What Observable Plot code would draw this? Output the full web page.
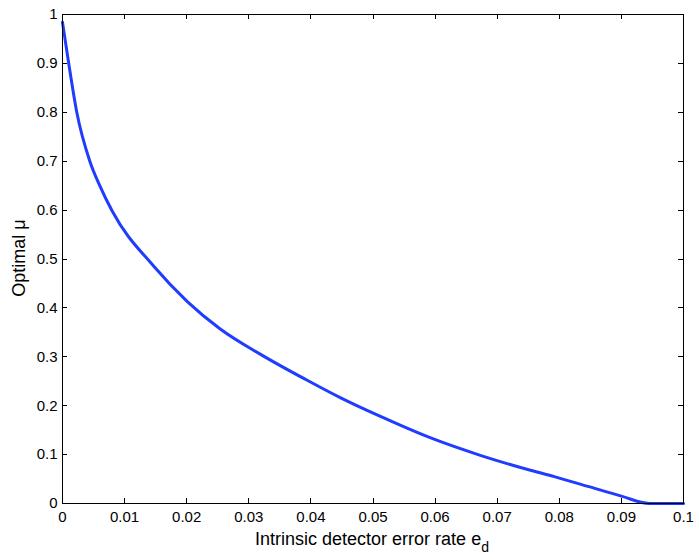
<!DOCTYPE html>
<html>
<head>
<meta charset="utf-8">
<script src="https://cdn.jsdelivr.net/npm/d3@7"></script>
<script src="https://cdn.jsdelivr.net/npm/@observablehq/plot@0.6"></script>
<style>
  html, body { margin: 0; padding: 0; background: #fff; }
  #chart svg { display: block; }
</style>
</head>
<body>
<div id="chart"></div>
<script>
// Intrinsic detector error rate e_d (x) and optimal mu (y)
const errorRate = [0, 0.001, 0.0023, 0.0044, 0.006, 0.008, 0.0147, 0.0201, 0.0254, 0.0319, 0.0394, 0.0448, 0.0512, 0.0593, 0.0674, 0.0755, 0.0792, 0.0846, 0.09, 0.0945, 0.1];
const optimalMu = [0.984, 0.9, 0.8, 0.7, 0.65, 0.598, 0.485, 0.413, 0.357, 0.305, 0.252, 0.216, 0.178, 0.134, 0.098, 0.0675, 0.055, 0.035, 0.015, 0, 0];
const xTicks = [0, 0.01, 0.02, 0.03, 0.04, 0.05, 0.06, 0.07, 0.08, 0.09, 0.1];
const yTicks = [0, 0.1, 0.2, 0.3, 0.4, 0.5, 0.6, 0.7, 0.8, 0.9, 1];
const xLabel = "Intrinsic detector error rate e";
const xLabelSub = "d";
const yLabel = "Optimal \u03bc";

(function () {
  const data = errorRate.map((e, i) => ({e, mu: optimalMu[i]}));
  const fmt = d => d === 0 ? "0" : d === 1 ? "1" : String(+d.toFixed(2));
  const FONT = "'Liberation Sans', Arial, sans-serif";

  const W = 699, H = 560, mL = 62, mR = 16, mT = 14, mB = 57, tickLen = 5;

  const plot = Plot.plot({
    width: W,
    height: H,
    marginLeft: mL,
    marginRight: mR,
    marginTop: mT,
    marginBottom: mB,
    style: {fontFamily: FONT, fontSize: "15px", color: "#000", background: "#fff"},
    x: {domain: [0, 0.1], ticks: xTicks},
    y: {domain: [0, 1], ticks: yTicks},
    marks: [
      Plot.line(data, {x: "e", y: "mu", stroke: "#1f3cff", strokeWidth: 3, curve: "monotone-x"}),
      Plot.frame({stroke: "#000", strokeWidth: 1}),
      Plot.axisX({anchor: "bottom", ticks: xTicks, tickSize: 0, tickPadding: 8, tickFormat: fmt, label: null, fontSize: 15, fill: "#000"}),
      Plot.axisY({anchor: "left", ticks: yTicks, tickSize: 0, tickPadding: 5, tickFormat: fmt, label: null, fontSize: 15, fill: "#000"})
    ]
  });

  document.getElementById("chart").appendChild(plot);

  const svg = d3.select(plot);
  svg.selectAll("g[aria-label*='tick label']").attr("font-size", 15);
  svg.selectAll("g[aria-label*='tick label'] text").attr("font-size", 15);

  // inward tick marks on all four sides, placed with Plot's own scales
  const sx = plot.scale("x"), sy = plot.scale("y");
  const yTop = mT, yBottom = H - mB, xLeft = mL, xRight = W - mR;
  const tg = svg.append("g").attr("stroke", "#000").attr("stroke-width", 1).attr("fill", "none");
  xTicks.forEach(v => {
    const x = Math.round(sx.apply(v)) + 0.5;
    tg.append("line").attr("x1", x).attr("x2", x).attr("y1", yBottom).attr("y2", yBottom - tickLen);
    tg.append("line").attr("x1", x).attr("x2", x).attr("y1", yTop).attr("y2", yTop + tickLen);
  });
  yTicks.forEach(v => {
    const y = Math.round(sy.apply(v)) + 0.5;
    tg.append("line").attr("y1", y).attr("y2", y).attr("x1", xLeft).attr("x2", xLeft + tickLen);
    tg.append("line").attr("y1", y).attr("y2", y).attr("x1", xRight).attr("x2", xRight - tickLen);
  });

  const xt = svg.append("text")
    .attr("x", 372).attr("y", 545)
    .attr("text-anchor", "middle")
    .attr("font-family", FONT)
    .attr("font-size", 18)
    .attr("fill", "#000");
  xt.append("tspan").text(xLabel);
  xt.append("tspan").attr("dy", 7).attr("font-size", 14).text(xLabelSub);

  svg.append("text")
    .attr("transform", "translate(25,258) rotate(-90)")
    .attr("text-anchor", "middle")
    .attr("font-family", FONT)
    .attr("font-size", 18)
    .attr("fill", "#000")
    .text(yLabel);
})();
</script>
</body>
</html>
